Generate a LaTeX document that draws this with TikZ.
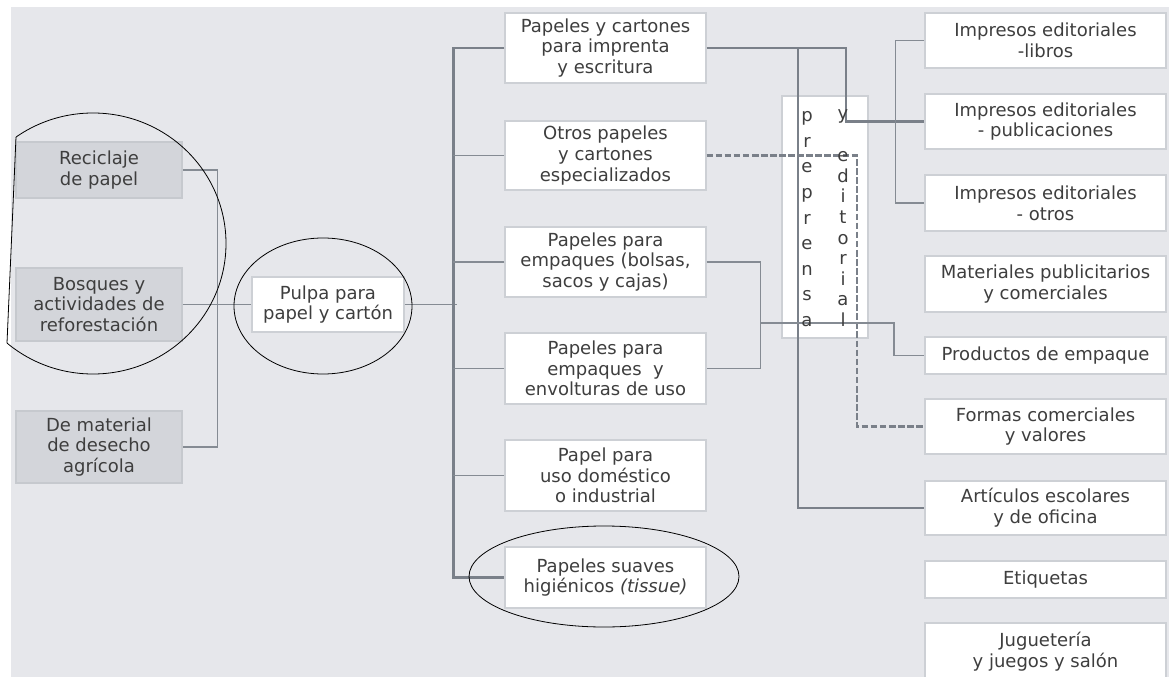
\documentclass[tikz,border=0pt]{standalone}
\usepackage{fontspec}
\setmainfont{DejaVu Sans}
\usetikzlibrary{calc}
\definecolor{bg}{HTML}{E6E7EB}
\definecolor{srcfill}{HTML}{D3D5DA}
\definecolor{srcdraw}{HTML}{C6C9CE}
\definecolor{boxdraw}{HTML}{CDD0D5}
\definecolor{linec}{HTML}{858B93}
\definecolor{thickc}{HTML}{7A8089}
\definecolor{txt}{HTML}{3E3E3E}
\begin{document}
\begin{tikzpicture}[x=0.75pt,y=-0.75pt,
  every node/.style={font=\fontsize{13.5}{15.5}\selectfont, text=txt, align=center, inner sep=0pt},
  srcbox/.style={draw=srcdraw, fill=srcfill, line width=0.8pt, minimum width=124.5pt},
  wbox/.style={draw=boxdraw, fill=white, line width=0.8pt},
  midbox/.style={wbox, minimum width=150.75pt},
  outbox/.style={wbox, minimum width=180.75pt},
  conn/.style={draw=linec, line width=1.1pt},
  thickconn/.style={draw=thickc, line width=2.2pt},
  dashconn/.style={draw=thickc, line width=1.6pt, dash pattern=on 5pt off 1.8pt},
  ring/.style={draw=black, line width=0.6pt}]
\useasboundingbox (0,0) rectangle (1169,677);
\fill[white] (0,0) rectangle (1169,677);
\fill[bg] (11,7) rectangle (1169,677);

% source boxes
\node[srcbox, minimum height=42pt] (rec) at (99,170) {Reciclaje\\de papel};
\node[srcbox, minimum height=54.75pt] (bos) at (99,304.5) {Bosques y\\actividades de\\reforestación};
\node[srcbox, minimum height=54pt] (mat) at (99,447) {De material\\de desecho\\agrícola};
\node[wbox, minimum width=114pt, minimum height=41.25pt] (pul) at (328,304.5) {Pulpa para\\papel y cartón};

% middle boxes
\node[midbox, minimum height=52.5pt] (b1) at (605.5,48) {Papeles y cartones\\para imprenta\\y escritura};
\node[midbox, minimum height=51.75pt] (b2) at (605.5,155.5) {Otros papeles\\y cartones\\especializados};
\node[midbox, minimum height=52.5pt] (b3) at (605.5,262) {Papeles para\\empaques (bolsas,\\sacos y cajas)};
\node[midbox, minimum height=53.25pt] (b4) at (605.5,368.5) {Papeles para\\empaques\ \ y\\envolturas de uso};
\node[midbox, minimum height=53.25pt] (b5) at (605.5,475.5) {Papel para\\uso doméstico\\o industrial};
\node[midbox, minimum height=45.75pt] (b6) at (605.5,577.5) {Papeles suaves\\higiénicos \textit{(tissue)}};

% right boxes
\node[outbox, minimum height=41.25pt] (r1) at (1045.5,40.5) {Impresos editoriales\\-libros};
\node[outbox, minimum height=41.25pt] (r2) at (1045.5,121.5) {Impresos editoriales\\- publicaciones};
\node[outbox, minimum height=42pt] (r3) at (1045.5,203) {Impresos editoriales\\- otros};
\node[outbox, minimum height=42pt] (r4) at (1045.5,284) {Materiales publicitarios\\y comerciales};
\node[outbox, minimum height=27.75pt] (r5) at (1045.5,355.5) {Productos de empaque};
\node[outbox, minimum height=41.25pt] (r6) at (1045.5,426.5) {Formas comerciales\\y valores};
\node[outbox, minimum height=40.5pt] (r7) at (1045.5,508) {Artículos escolares\\y de oficina};
\node[outbox, minimum height=27.75pt] (r8) at (1045.5,579.5) {Etiquetas};
\node[outbox, minimum height=42.75pt] (r9) at (1045.5,651.5) {Juguetería\\y juegos y salón};

% preprensa box
\node[wbox, minimum width=64.5pt, minimum height=181.5pt] (pre) at (825,217) {};

% connectors
\draw[conn] (rec.east) -- ++(35,0) |- (mat.east);
\draw[conn] (bos.east) -- (pul.west);
\coordinate (tj) at (457,304.5);
\draw[conn] (pul.east) -- (tj);
\draw[thickconn] (b1.west) -- ++(-51,0) |- (b6.west);
\foreach \b in {b2,b3,b4,b5} \draw[conn] (\b.west) -- ++(-51,0);
\coordinate (ka) at (798,48);
\coordinate (kb) at (846,121.5);
\draw[thickconn] (b1.east) -| (kb) -- (r2.west);
\draw[thickconn] (ka) |- (r7.west);
\draw[conn] (r1.west) -- ++(-29,0) |- (r3.west);
\coordinate (kd) at (857,300);
\draw[dashconn] (b2.east) -| (kd) |- (r6.west);
\draw[conn] (b3.east) -- ++(54,0) |- (b4.east);
\coordinate (kp) at (760,323);
\coordinate (kq) at (894,340);
\draw[conn] (kp) -| (kq) |- (r5.west);

% vertical letters
\foreach \ch [count=\i from 0] in {p,r,e,p,r,e,n,s,a}
  \node[anchor=base] (pl\i) at (807,{122+25.5*\i}) {\ch};
\node[anchor=base] (py) at (843,120) {y};
\foreach \ch [count=\i from 0] in {e,d,i,t,o,r,i,a,l}
  \node[anchor=base] (pr\i) at (843,{162+20.5*\i}) {\ch};

% hand-drawn ellipses
\draw[ring] (323,306) ellipse [x radius=89, y radius=68];
\draw[ring] (604,576.5) ellipse [x radius=135, y radius=50.5];
\begin{scope}
  \clip (22,0) -- (-7.6,677) -- (500,677) -- (500,0) -- cycle;
  \draw[ring] (93,243.5) ellipse [x radius=133, y radius=130.5];
\end{scope}
\draw[ring] (16,137) -- (7,343);
\end{tikzpicture}
\end{document}
